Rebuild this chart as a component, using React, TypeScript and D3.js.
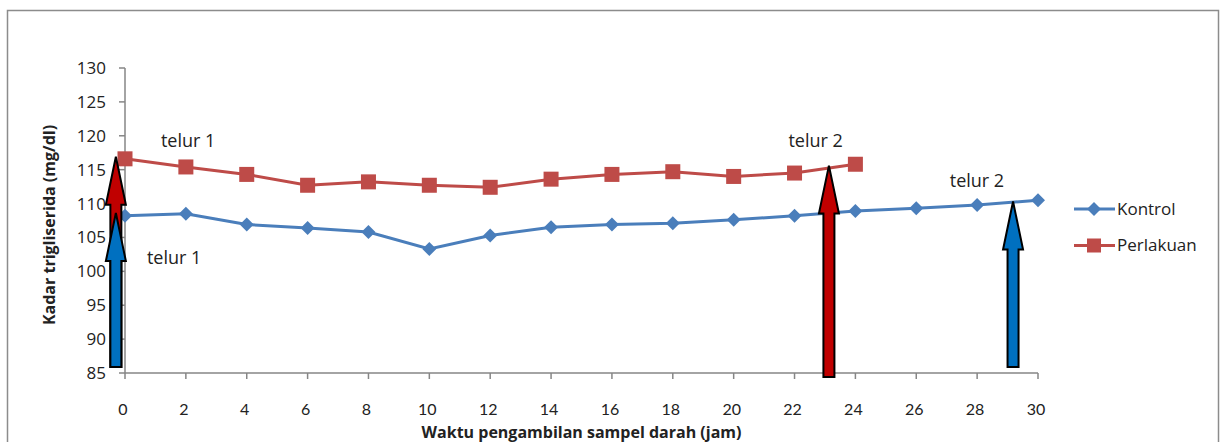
import React from "react";
import * as d3 from "d3";

const hours = [0, 2, 4, 6, 8, 10, 12, 14, 16, 18, 20, 22, 24, 26, 28, 30];
const kontrol = [108.2, 108.5, 106.9, 106.4, 105.8, 103.3, 105.3, 106.5, 106.9, 107.1, 107.6, 108.2, 108.9, 109.3, 109.8, 110.5];
const perlakuanHours = [0, 2, 4, 6, 8, 10, 12, 14, 16, 18, 20, 22, 24];
const perlakuan = [116.6, 115.4, 114.3, 112.7, 113.2, 112.7, 112.4, 113.6, 114.3, 114.7, 114.0, 114.5, 115.8];
const yTicks = [85, 90, 95, 100, 105, 110, 115, 120, 125, 130];
const xTicks = [0, 2, 4, 6, 8, 10, 12, 14, 16, 18, 20, 22, 24, 26, 28, 30];
// arrows: x in hours, tip & base in mg/dl
const arrows = [
  { x: -0.3, tip: 116.9, base: 85.9, color: "#c00000" },
  { x: -0.3, tip: 108.6, base: 85.9, color: "#0070c0" },
  { x: 23.13, tip: 115.6, base: 84.4, color: "#c00000" },
  { x: 29.18, tip: 110.3, base: 85.9, color: "#0070c0" },
];
const labels = [
  { text: "telur 1", x: 1.18, y: 119.3 },
  { text: "telur 1", x: 0.72, y: 102.0 },
  { text: "telur 2", x: 21.8, y: 119.3 },
  { text: "telur 2", x: 27.1, y: 113.4 },
];
const seriesNames = ["Kontrol", "Perlakuan"];
const seriesColors = ["#4a7ebb", "#be4b48"];

const FONT = "'Open Sans', Lato, sans-serif";

export default function App() {
  const x = d3.scaleLinear().domain([0, 30]).range([125, 1038]);
  const y = d3.scaleLinear().domain([85, 130]).range([373, 68]);
  const line = d3.line<[number, number]>().x((d) => x(d[0])).y((d) => y(d[1]));
  const kData: [number, number][] = hours.map((h, i) => [h, kontrol[i]]);
  const pData: [number, number][] = perlakuanHours.map((h, i) => [h, perlakuan[i]]);
  const axisColor = "#868686";

  const arrowPath = (a: { x: number; tip: number; base: number }) => {
    const cx = x(a.x);
    const ty = y(a.tip);
    const by = y(a.base);
    const hw = 10;
    const sw = 5.5;
    const hl = 48;
    return `M${cx},${ty} L${cx + hw},${ty + hl} L${cx + sw},${ty + hl} L${cx + sw},${by} L${cx - sw},${by} L${cx - sw},${ty + hl} L${cx - hw},${ty + hl} Z`;
  };

  const diamond = (cx: number, cy: number, r = 7) => `M${cx},${cy - r} L${cx + r},${cy} L${cx},${cy + r} L${cx - r},${cy} Z`;

  return (
    <svg width={1221} height={442} style={{ position: "absolute", left: 0, top: 0, background: "#fff" }} fontFamily={FONT}>
      <rect x={7.5} y={10.5} width={1211} height={440} fill="#fff" stroke="#8c8c8c" strokeWidth={1.5} />
      {/* y axis */}
      <line x1={x(0)} x2={x(0)} y1={y(130)} y2={y(85)} stroke={axisColor} strokeWidth={1.5} />
      {yTicks.map((t) => (
        <g key={t}>
          <line x1={x(0) - 6} x2={x(0)} y1={y(t)} y2={y(t)} stroke={axisColor} strokeWidth={1.5} />
          <text x={106} y={y(t)} dy="0.35em" textAnchor="end" fontSize={17} fill="#222">{t}</text>
        </g>
      ))}
      {/* x axis */}
      <line x1={x(0)} x2={x(30)} y1={y(85)} y2={y(85)} stroke={axisColor} strokeWidth={1.5} />
      {xTicks.map((t) => (
        <g key={t}>
          <line x1={x(t)} x2={x(t)} y1={y(85)} y2={y(85) + 6} stroke={axisColor} strokeWidth={1.5} />
          <text x={x(t) - 2} y={409} dy="0.35em" textAnchor="middle" fontSize={16} fontFamily="Lato, sans-serif" fill="#222">{t}</text>
        </g>
      ))}
      <text x={(x(0) + x(30)) / 2} y={432} dy="0.35em" textAnchor="middle" fontSize={16} fontWeight="bold" fill="#222">
        Waktu pengambilan sampel darah (jam)
      </text>
      <text transform={`translate(49,225) rotate(-90)`} dy="0.35em" textAnchor="middle" fontSize={16} fontWeight="bold" fill="#222">
        Kadar trigliserida  (mg/dl)
      </text>
      {/* series */}
      <path d={line(pData) || ""} fill="none" stroke={seriesColors[1]} strokeWidth={3} />
      {pData.map((d, i) => (
        <rect key={i} x={x(d[0]) - 7.5} y={y(d[1]) - 7.5} width={15} height={15} fill={seriesColors[1]} />
      ))}
      <path d={line(kData) || ""} fill="none" stroke={seriesColors[0]} strokeWidth={3} />
      {kData.map((d, i) => (
        <path key={i} d={diamond(x(d[0]), y(d[1]))} fill={seriesColors[0]} />
      ))}
      {/* arrows */}
      {arrows.map((a, i) => (
        <path key={i} d={arrowPath(a)} fill={a.color} stroke="#000" strokeWidth={2} strokeLinejoin="miter" />
      ))}
      {/* labels */}
      {labels.map((l, i) => (
        <text key={i} x={x(l.x)} y={y(l.y)} dy="0.35em" fontSize={18} fill="#222">{l.text}</text>
      ))}
      {/* legend */}
      {seriesNames.map((n, i) => {
        const ly = 209 + i * 36.5;
        return (
          <g key={n}>
            <line x1={1074} x2={1115} y1={ly} y2={ly} stroke={seriesColors[i]} strokeWidth={3} />
            {i === 0 ? (
              <path d={diamond(1094, ly)} fill={seriesColors[0]} />
            ) : (
              <rect x={1094 - 7} y={ly - 7} width={14} height={14} fill={seriesColors[1]} />
            )}
            <text x={1117} y={ly} dy="0.35em" fontSize={17} fill="#222">{n}</text>
          </g>
        );
      })}
    </svg>
  );
}
